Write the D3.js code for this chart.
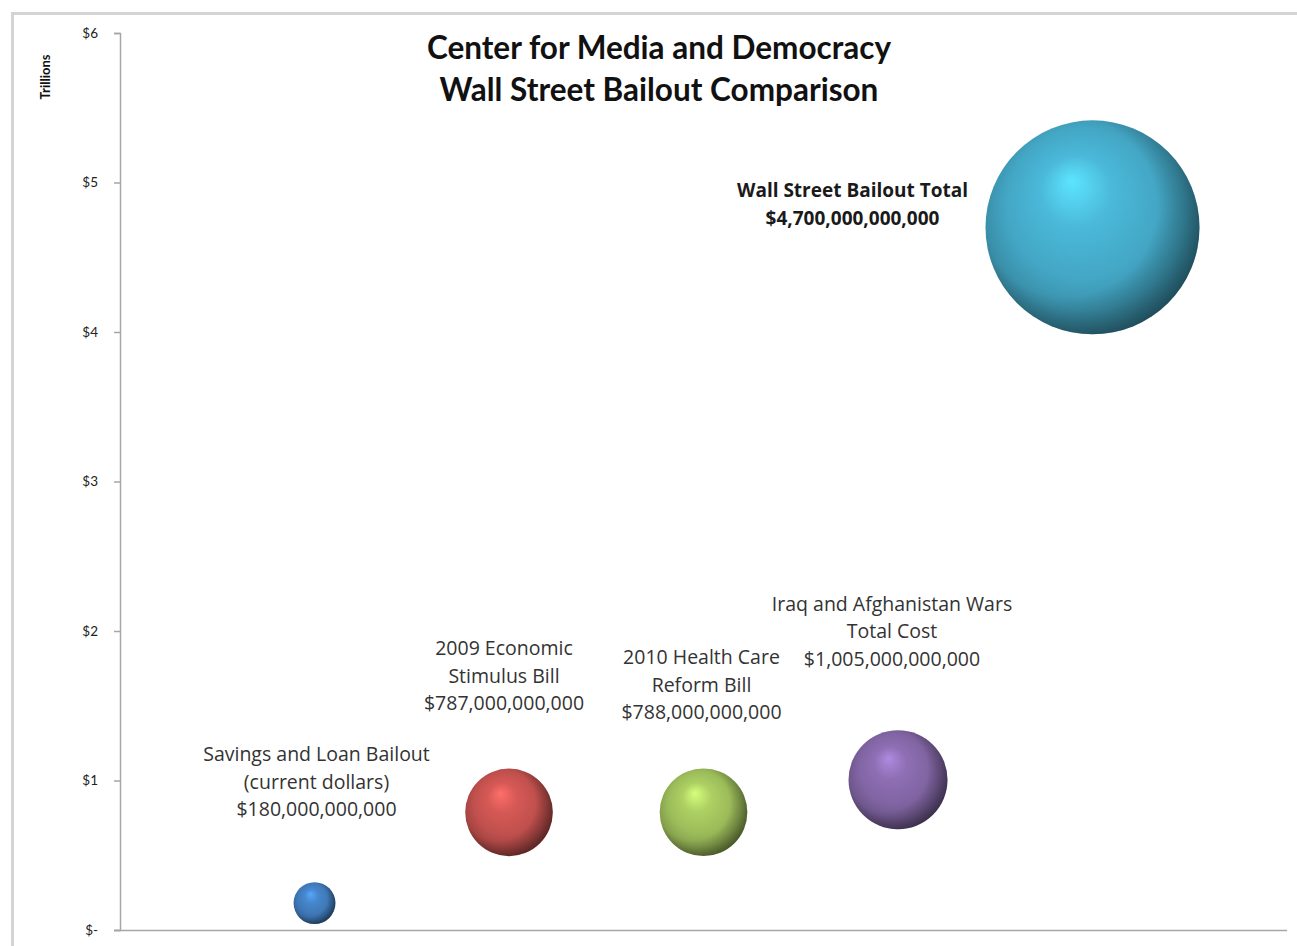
<!DOCTYPE html>
<html>
<head>
<meta charset="utf-8">
<script src="https://cdn.jsdelivr.net/npm/d3@7"></script>
<style>
  body { margin: 0; background: #fff; }
  svg { display: block; font-family: "Open Sans", Lato, sans-serif; }
</style>
</head>
<body>
<svg id="chart" width="1297" height="946"></svg>
<script>
// data (trillions of dollars)
var names = [
  ["Savings and Loan Bailout", "(current dollars)", "$180,000,000,000"],
  ["2009 Economic", "Stimulus Bill", "$787,000,000,000"],
  ["2010 Health Care", "Reform Bill", "$788,000,000,000"],
  ["Iraq and Afghanistan Wars", "Total Cost", "$1,005,000,000,000"],
  ["Wall Street Bailout Total", "$4,700,000,000,000"]
];
var xValues = [1, 2, 3, 4, 5];
var amounts = [0.18, 0.787, 0.788, 1.005, 4.7];
var colors = ["#3f79b8", "#c0504d", "#9bbb59", "#8064a2", "#43a6c4"];
var yTicks = [0, 1, 2, 3, 4, 5, 6];
var yTickLabels = ["$-", "$1", "$2", "$3", "$4", "$5", "$6"];

var svg = d3.select("#chart");
var width = 1297, height = 946;

// outer chart border
svg.append("path")
    .attr("d", "M12.5,946 L12.5,13.5 L1297,13.5")
    .attr("fill", "none")
    .attr("stroke", "#d4d4d4")
    .attr("stroke-width", 3);

var x = d3.scaleLinear().domain([0, 6]).range([120, 1287]);
var y = d3.scaleLinear().domain([0, 6]).range([930, 33]);
var r = d3.scaleSqrt().domain([0, 4.7]).range([0, 107]);

// y axis
var yAxis = svg.append("g")
    .attr("transform", "translate(120,0)")
    .call(d3.axisLeft(y).tickValues(yTicks).tickSize(6).tickPadding(16)
        .tickFormat(function (d, i) { return yTickLabels[i]; }));
yAxis.select(".domain").attr("stroke", "#a6a6a6").attr("stroke-width", 1.5);
yAxis.selectAll(".tick line").attr("stroke", "#a6a6a6").attr("stroke-width", 1.5);
yAxis.selectAll(".tick text")
    .attr("fill", "#222")
    .style("font-family", "Lato, sans-serif")
    .style("font-size", "13.5px");

// x axis line only
svg.append("line")
    .attr("x1", 114).attr("x2", 1287)
    .attr("y1", 930.5).attr("y2", 930.5)
    .attr("stroke", "#a6a6a6")
    .attr("stroke-width", 1.5);

svg.append("text")
    .attr("transform", "translate(50,77) rotate(-90)")
    .attr("text-anchor", "middle")
    .style("font-family", "Lato, sans-serif")
    .style("font-size", "13px")
    .style("font-weight", "bold")
    .attr("fill", "#111")
    .text("Trillions");

// title
var title = svg.append("text")
    .attr("text-anchor", "middle")
    .attr("fill", "#111")
    .style("font-family", "Lato, sans-serif")
    .style("font-size", "31.5px")
    .style("font-weight", "bold");
title.append("tspan").attr("x", 659).attr("y", 59).text("Center for Media and Democracy");
title.append("tspan").attr("x", 659).attr("y", 101).text("Wall Street Bailout Comparison");

// sphere gradients
var defs = svg.append("defs");
colors.forEach(function (c, i) {
    var base = d3.color(c);
    var g = defs.append("radialGradient")
        .attr("id", "ball" + i)
        .attr("cx", "48%").attr("cy", "45%").attr("r", "55%")
        .attr("fx", "40%").attr("fy", "28%");
    g.append("stop").attr("offset", "0%").attr("stop-color", base.brighter(0.9));
    g.append("stop").attr("offset", "30%").attr("stop-color", base.brighter(0.3));
    g.append("stop").attr("offset", "65%").attr("stop-color", base);
    g.append("stop").attr("offset", "85%").attr("stop-color", base.darker(0.4));
    g.append("stop").attr("offset", "100%").attr("stop-color", base.darker(1));
});
var shade = defs.append("radialGradient")
    .attr("id", "shade")
    .attr("cx", "38%").attr("cy", "40%").attr("r", "70%");
shade.append("stop").attr("offset", "60%").attr("stop-color", "#000").attr("stop-opacity", 0);
shade.append("stop").attr("offset", "100%").attr("stop-color", "#000").attr("stop-opacity", 0.4);

var bubbles = svg.selectAll(".bubble")
    .data(amounts)
    .enter().append("g")
    .attr("class", "bubble");

bubbles.append("circle")
    .attr("cx", function (d, i) { return x(xValues[i]); })
    .attr("cy", function (d) { return y(d); })
    .attr("r", function (d) { return r(d); })
    .attr("fill", function (d, i) { return "url(#ball" + i + ")"; });

bubbles.append("circle")
    .attr("cx", function (d, i) { return x(xValues[i]); })
    .attr("cy", function (d) { return y(d); })
    .attr("r", function (d) { return r(d); })
    .attr("fill", "url(#shade)");

// label offsets from bubble centre (dragged by hand in the original)
var labelOffsets = [[2, -142], [-5, -157], [-2, -148], [-6, -169], [-240, -30]];

bubbles.each(function (d, i) {
    var lines = names[i];
    var bold = i === 4;
    var lh = bold ? 28 : 27.5;
    var t = d3.select(this).append("text")
        .attr("text-anchor", "middle")
        .attr("fill", bold ? "#1a1a1a" : "#333")
        .style("font-size", bold ? "19px" : "19.5px")
        .style("font-weight", bold ? "bold" : "normal");
    lines.forEach(function (line, k) {
        t.append("tspan")
            .attr("x", x(xValues[i]) + labelOffsets[i][0])
            .attr("y", y(d) + labelOffsets[i][1] + k * lh)
            .text(line);
    });
});
</script>
</body>
</html>
